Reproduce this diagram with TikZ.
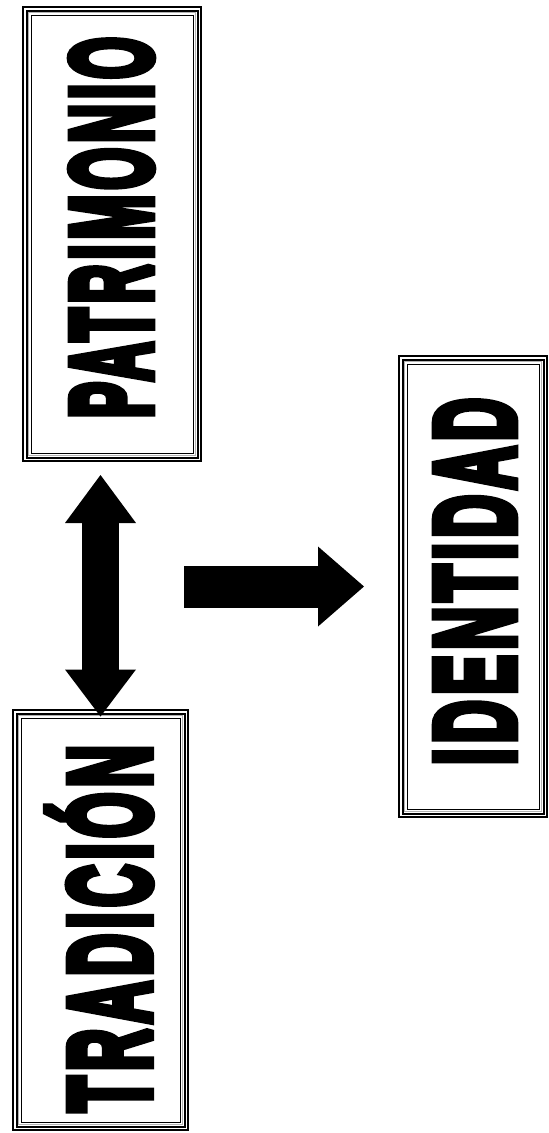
\documentclass[tikz,border=0pt]{standalone}
\usepackage{fontspec}
\usepackage{graphicx}
\newfontfamily\heavy{Liberation Sans}[FakeBold=8,LetterSpace=9]
\usetikzlibrary{arrows.meta,positioning}

\begin{document}
\begin{tikzpicture}[x=1pt,y=1pt,
    frame/.style={draw,line width=2pt,double=white,double distance=1.5pt,inner sep=0pt,
      path picture={
        \draw[gray!60,line width=1pt] ([shift={(3.75pt,-3.75pt)}]path picture bounding box.north west)
          rectangle ([shift={(-3.75pt,3.75pt)}]path picture bounding box.south east);
        \draw[line width=1pt] ([shift={(6.25pt,-6.25pt)}]path picture bounding box.north west)
          rectangle ([shift={(-6.25pt,6.25pt)}]path picture bounding box.south east);}},
    word/.style={inner sep=0pt},
    bigarrow/.style={line width=37pt}]

    \useasboundingbox (0,0) rectangle (549,-1133);

    % boxes
    \node[frame,minimum width=174.5pt,minimum height=450.5pt] (PA) at (112,-234) {};
    \node[frame,below of=PA,node distance=686pt,xshift=-11.5pt,
          minimum width=171.5pt,minimum height=416.5pt] (TR) {};
    \node[frame,right of=PA,node distance=361pt,yshift=-352.5pt,
          minimum width=144.5pt,minimum height=457.5pt] (ID) {};

    % words
    \begin{scope}[line join=miter,miter limit=2]
    \node[word] (PAw) at (111.5,-227.5)
        {\rotatebox{90}{\resizebox{381pt}{79.5pt}{\heavy\bfseries PATRIMONIO}}};
    \node[word] (TRw) at (99,-928.5)
        {\rotatebox{90}{\resizebox{367pt}{102pt}{\heavy\bfseries TRADICIÓN}}};
    \node[word] (IDw) at (475,-581.5)
        {\rotatebox{90}{\resizebox{367pt}{77.5pt}{\heavy\bfseries IDENTIDAD}}};
    \end{scope}

    % arrows
    \draw[bigarrow,{Triangle[length=48pt,width=71pt,line width=0pt]}-{Triangle[length=47pt,width=71pt,line width=0pt]},
          shorten <=14.75pt,shorten >=-5.75pt] (PA.south -| TR.north) -- (TR.north);

    \coordinate (src) at (184,-586.5);
    \draw[bigarrow,line width=42pt,-{Triangle[length=46pt,width=80pt,line width=0pt]},
          shorten >=35.75pt] (src) -- (ID.west);

\end{tikzpicture}
\end{document}
